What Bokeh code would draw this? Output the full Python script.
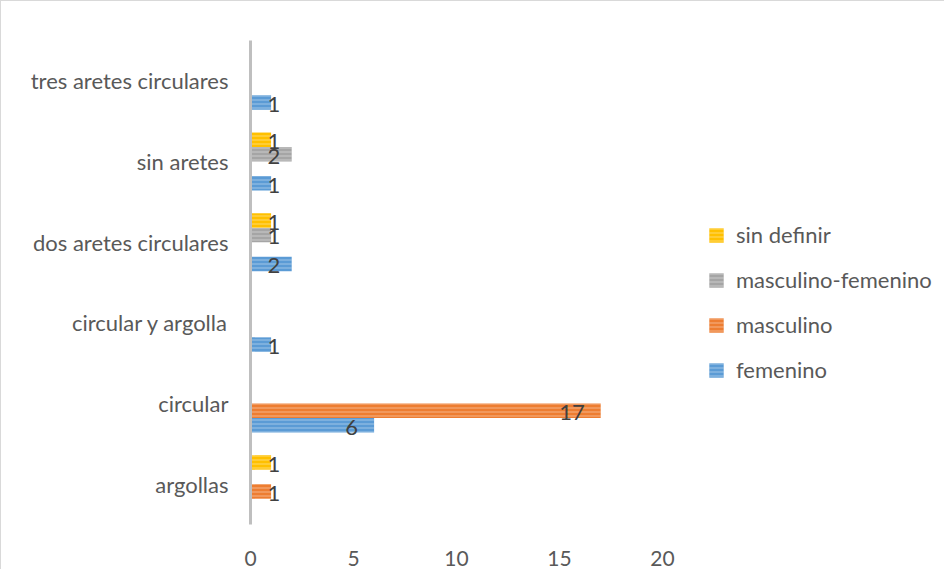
from bokeh.plotting import figure
from bokeh.models import ColumnDataSource, FactorRange, Legend, LegendItem, Range1d
from bokeh.transform import dodge
from bokeh.embed import file_html
from bokeh.resources import INLINE
from bokeh.core.properties import value

categories = ["argollas", "circular", "circular y argolla", "dos aretes circulares",
              "sin aretes", "tres aretes circulares"]
femenino = [None, 6, 1, 2, 1, 1]
masculino = [1, 17, None, None, None, None]
masculino_femenino = [None, None, None, 1, 2, None]
sin_definir = [1, None, None, 1, 1, None]

series_names = ["femenino", "masculino", "masculino-femenino", "sin definir"]
series_values = [femenino, masculino, masculino_femenino, sin_definir]
colors = ["#5B9BD5", "#ED7D31", "#A5A5A5", "#FFC000"]
offsets = [-0.27, -0.09, 0.09, 0.27]
x_ticks = [0, 5, 10, 15, 20]

FONT = "Lato"
FS = "22px"
W, H = 944, 569
LEFT, AXIS_RIGHT, TOP, BOTTOM = 249, 661, 39, 523
# the frame runs to the right edge so the legend can sit inside it;
# the 0-20 axis occupies LEFT..AXIS_RIGHT
x_end = 20 * (W - LEFT) / (AXIS_RIGHT - LEFT)

p = figure(width=W, height=H, y_range=FactorRange(factors=categories),
           x_range=Range1d(0, x_end), output_backend="svg", toolbar_location=None,
           min_border_left=LEFT, min_border_right=0, min_border_top=TOP,
           min_border_bottom=H - BOTTOM)
p.outline_line_color = None
p.xgrid.visible = False
p.ygrid.visible = False
p.background_fill_color = "white"
p.border_fill_color = "white"
p.styles = {"border-left": "1px solid #D9D9D9", "border-top": "1px solid #D9D9D9"}

renderers = []
for name, vals, col, off in zip(series_names, series_values, colors, offsets):
    cats = [c for c, v in zip(categories, vals) if v is not None]
    vs = [v for v in vals if v is not None]
    src = ColumnDataSource(dict(cat=cats, v=vs))
    r = p.hbar(y=dodge("cat", off, range=p.y_range), right="v", left=0, height=0.18,
               source=src, fill_color=col, line_color=None,
               hatch_pattern="horizontal_line", hatch_color="white",
               hatch_alpha=0.35, hatch_scale=4, hatch_weight=1.2)
    renderers.append(r)
    # data labels: inside end when there is room, otherwise near bar start
    big = [i for i, v in enumerate(vs) if v >= 3]
    small = [i for i, v in enumerate(vs) if v < 3]
    sb = ColumnDataSource(dict(cat=[cats[i] for i in big], v=[vs[i] for i in big],
                               lbl=[str(vs[i]) for i in big]))
    ss = ColumnDataSource(dict(cat=[cats[i] for i in small], v=[0] * len(small),
                               lbl=[str(vs[i]) for i in small]))
    p.text(x="v", y=dodge("cat", off, range=p.y_range), text="lbl", source=sb,
           text_align="right", text_baseline="middle", x_offset=-16, y_offset=2,
           text_font=value(FONT), text_font_size=FS, text_color="#404040")
    p.text(x="v", y=dodge("cat", off, range=p.y_range), text="lbl", source=ss,
           text_align="left", text_baseline="middle", x_offset=17, y_offset=2,
           text_font=value(FONT), text_font_size=FS, text_color="#404040")

# axes
p.yaxis.axis_line_color = "#BFBFBF"
p.yaxis.axis_line_width = 3
p.yaxis.major_tick_line_color = None
p.yaxis.minor_tick_line_color = None
p.yaxis.major_label_standoff = 16
p.yaxis.major_label_text_font = FONT
p.yaxis.major_label_text_font_size = FS
p.yaxis.major_label_text_color = "#595959"

p.xaxis.ticker = x_ticks
p.xaxis.axis_line_color = None
p.xaxis.major_tick_line_color = None
p.xaxis.minor_tick_line_color = None
p.xaxis.major_label_standoff = 20
p.xaxis.major_label_text_font = FONT
p.xaxis.major_label_text_font_size = "21px"
p.xaxis.major_label_text_color = "#595959"

items = [LegendItem(label=n, renderers=[r]) for n, r in zip(series_names, renderers)][::-1]
legend = Legend(items=items, location=(706 - LEFT, 141), border_line_color=None,
                background_fill_alpha=0, padding=0, margin=0,
                glyph_width=18, glyph_height=18, label_height=20, spacing=18,
                label_standoff=11, label_text_font=FONT, label_text_font_size=FS,
                label_text_color="#595959")
p.add_layout(legend, "center")

open("out.html", "w").write(file_html(p, INLINE))
